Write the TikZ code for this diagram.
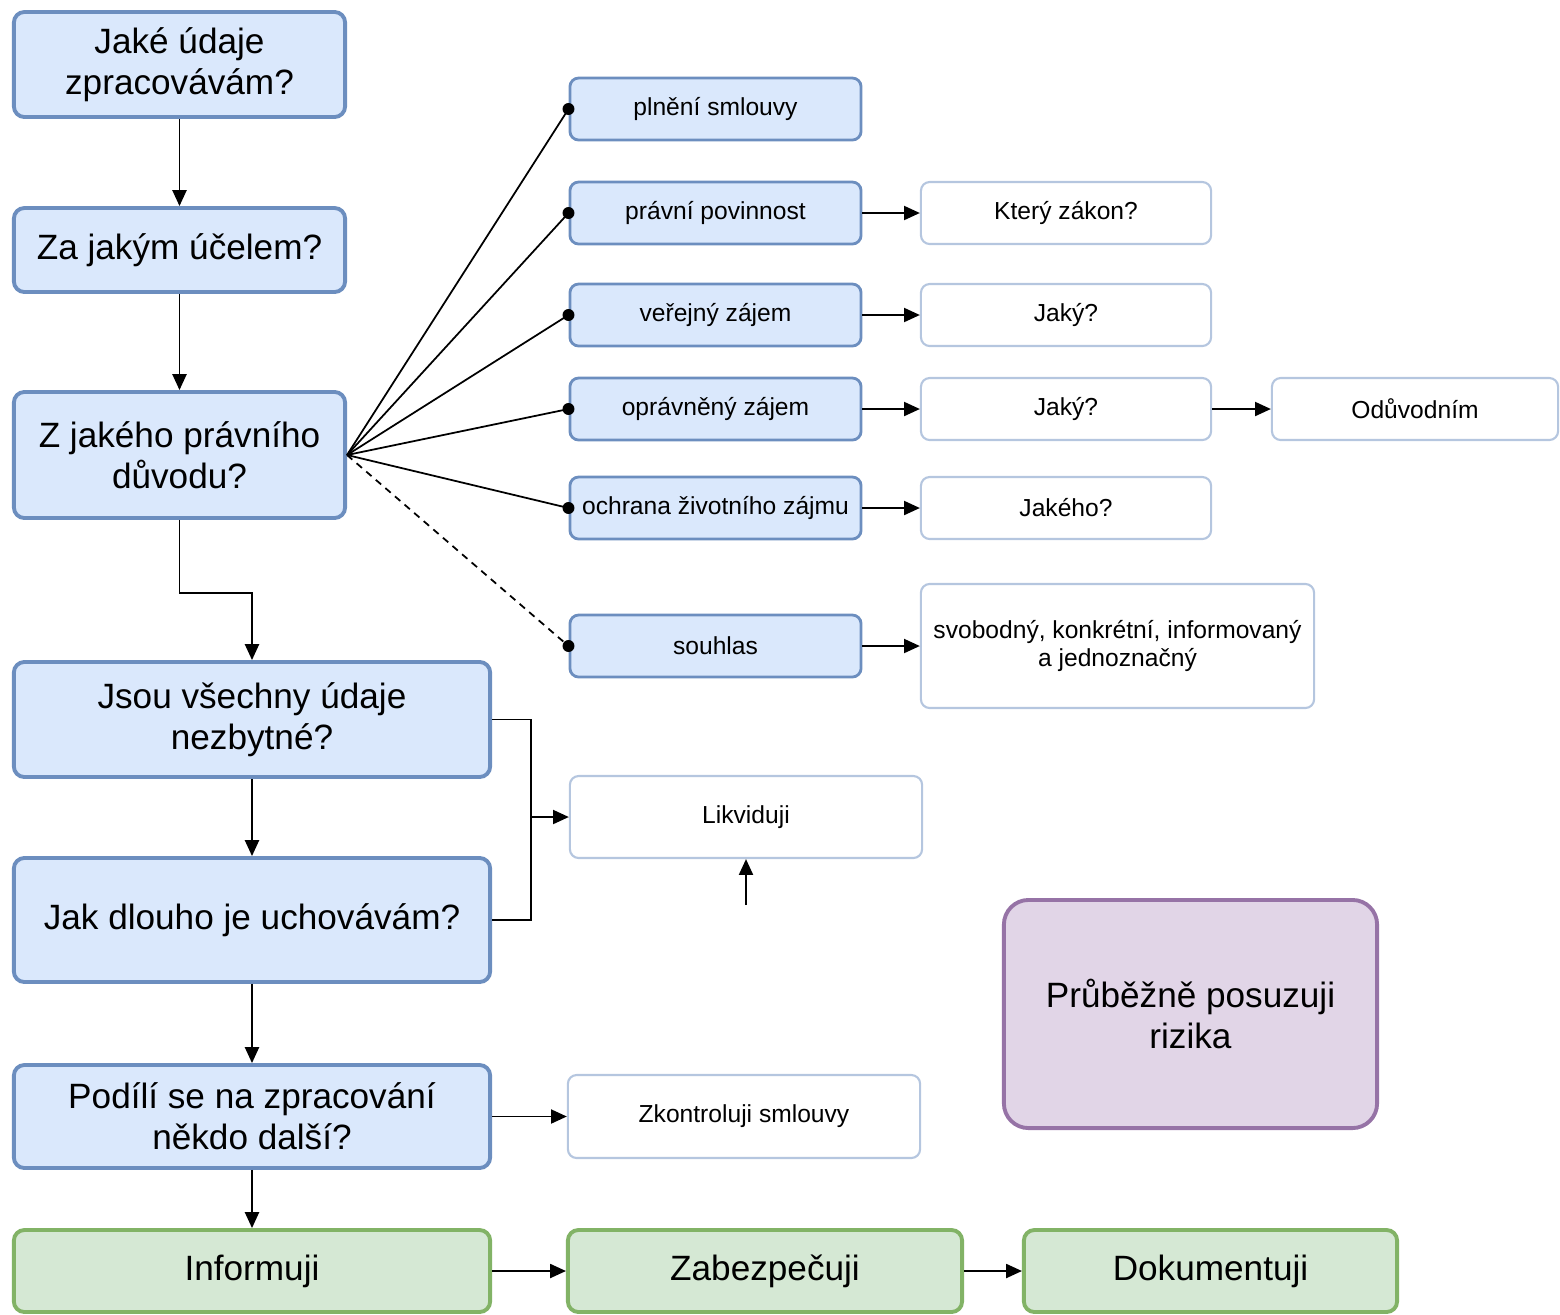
\documentclass[tikz,border=0pt]{standalone}
\usepackage{fontspec}
\setmainfont{Liberation Sans}
\usetikzlibrary{arrows.meta}
\definecolor{bluefill}{HTML}{DAE8FC}
\definecolor{bluedraw}{HTML}{6C8EBF}
\definecolor{greenfill}{HTML}{D5E8D4}
\definecolor{greendraw}{HTML}{82B366}
\definecolor{purplefill}{HTML}{E1D5E7}
\definecolor{purpledraw}{HTML}{9673A6}
\begin{document}
\begin{tikzpicture}[x=0.01cm, y=-0.01cm,
	bigbox/.style={draw=bluedraw, fill=bluefill, line width=1.1pt, rounded corners=3pt, align=center, inner sep=0pt, font=\fontsize{10}{11.7}\selectfont},
	basebox/.style={draw=bluedraw, fill=bluefill, line width=0.8pt, rounded corners=2.5pt, inner sep=0pt, minimum width=2.91cm, minimum height=0.62cm, font=\fontsize{7}{8}\selectfont},
	answbox/.style={draw=bluedraw!50, fill=white, line width=0.6pt, rounded corners=2.5pt, inner sep=0pt, align=center, minimum height=0.62cm, font=\fontsize{7}{8}\selectfont},
	endbox/.style={bigbox, draw=greendraw, fill=greenfill},
	arr/.style={-{Triangle[length=4.5pt,width=4pt]}, line width=0.5pt},
	link/.style={line width=0.5pt}
]
	\useasboundingbox (0,0) rectangle (1560,1314);
	
	% main questions
	\node (A) at (179.5,64.5) [bigbox, minimum width=3.31cm, minimum height=1.05cm]{Jaké údaje\\zpracovávám?};
	\node (B) at (179.5,250) [bigbox, minimum width=3.31cm, minimum height=0.84cm]{Za jakým účelem?};
	\node (C) at (179.5,455) [bigbox, minimum width=3.31cm, minimum height=1.26cm]{Z jakého právního\\důvodu?};
	\node (D) at (252,719.5) [bigbox, minimum width=4.76cm, minimum height=1.15cm]{Jsou všechny údaje\\nezbytné?};
	\node (E) at (252,920) [bigbox, minimum width=4.76cm, minimum height=1.24cm]{Jak dlouho je uchovávám?};
	\node (F) at (252,1116.5) [bigbox, minimum width=4.76cm, minimum height=1.03cm]{Podílí se na zpracování\\někdo další?};
	\node (G) at (252,1271) [endbox, minimum width=4.76cm, minimum height=0.82cm]{Informuji};
	\node (H) at (765,1271) [endbox, minimum width=3.94cm, minimum height=0.82cm]{Zabezpečuji};
	\node (I) at (1210.5,1271) [endbox, minimum width=3.73cm, minimum height=0.82cm]{Dokumentuji};
	
	% legal bases
	\node (pl) at (715.5,109) [basebox]{plnění smlouvy};
	\node (pp) at (715.5,213) [basebox]{právní povinnost};
	\node (vz) at (715.5,315) [basebox]{veřejný zájem};
	\node (oz) at (715.5,409) [basebox]{oprávněný zájem};
	\node (zz) at (715.5,508) [basebox]{ochrana životního zájmu};
	\node (so) at (715.5,646) [basebox]{souhlas};
	
	% answers
	\node (kz) at (1066,213) [answbox, minimum width=2.9cm]{Který zákon?};
	\node (j1) at (1066,315) [answbox, minimum width=2.9cm]{Jaký?};
	\node (j2) at (1066,409) [answbox, minimum width=2.9cm]{Jaký?};
	\node (j3) at (1066,508) [answbox, minimum width=2.9cm]{Jakého?};
	\node (sv) at (1117.5,646) [answbox, minimum width=3.93cm, minimum height=1.24cm]{svobodný, konkrétní, informovaný\\a jednoznačný};
	\node (od) at (1415,409) [answbox, minimum width=2.86cm]{Odůvodním};
	\node (lk) at (746,817) [answbox, minimum width=3.52cm, minimum height=0.82cm]{Likviduji};
	\node (zk) at (744,1116.5) [answbox, minimum width=3.52cm, minimum height=0.83cm]{Zkontroluji smlouvy};
	\node (rz) at (1190.5,1014) [bigbox, draw=purpledraw, fill=purplefill, rounded corners=7pt, minimum width=3.73cm, minimum height=2.28cm]{Průběžně posuzuji\\rizika};
	
	\coordinate (m) at (531,817);
	\coordinate (lkin) at (746,905);
	
	% flow
	\draw[arr] (A) -- (B);
	\draw[arr] (B) -- (C);
	\draw[arr] (C.south) -- ++(0,73) -| (D.north);
	\draw[arr] (D) -- (E);
	\draw[arr] (E) -- (F);
	\draw[arr] (F) -- (G);
	\draw[arr] (G) -- (H);
	\draw[arr] (H) -- (I);
	\draw[arr] (F) -- (zk);
	\draw[link] (D.east) -| (m);
	\draw[link] (E.east) -| (m);
	\draw[arr] (m) -- (lk.west);
	\draw[arr] (lkin) -- (lk.south);
	
	% fan of legal bases
	\foreach \n in {pl,pp,vz,oz,zz}{
		\draw[link] (C.east) -- (\n.west);
		\fill (\n.west) circle (1.7pt);
	}
	\draw[link, dash pattern=on 2pt off 1.6pt] (C.east) -- (so.west);
	\fill (so.west) circle (1.7pt);
	
	\draw[arr] (pp) -- (kz);
	\draw[arr] (vz) -- (j1);
	\draw[arr] (oz) -- (j2);
	\draw[arr] (j2) -- (od);
	\draw[arr] (zz) -- (j3);
	\draw[arr] (so) -- (sv);
\end{tikzpicture}
\end{document}
